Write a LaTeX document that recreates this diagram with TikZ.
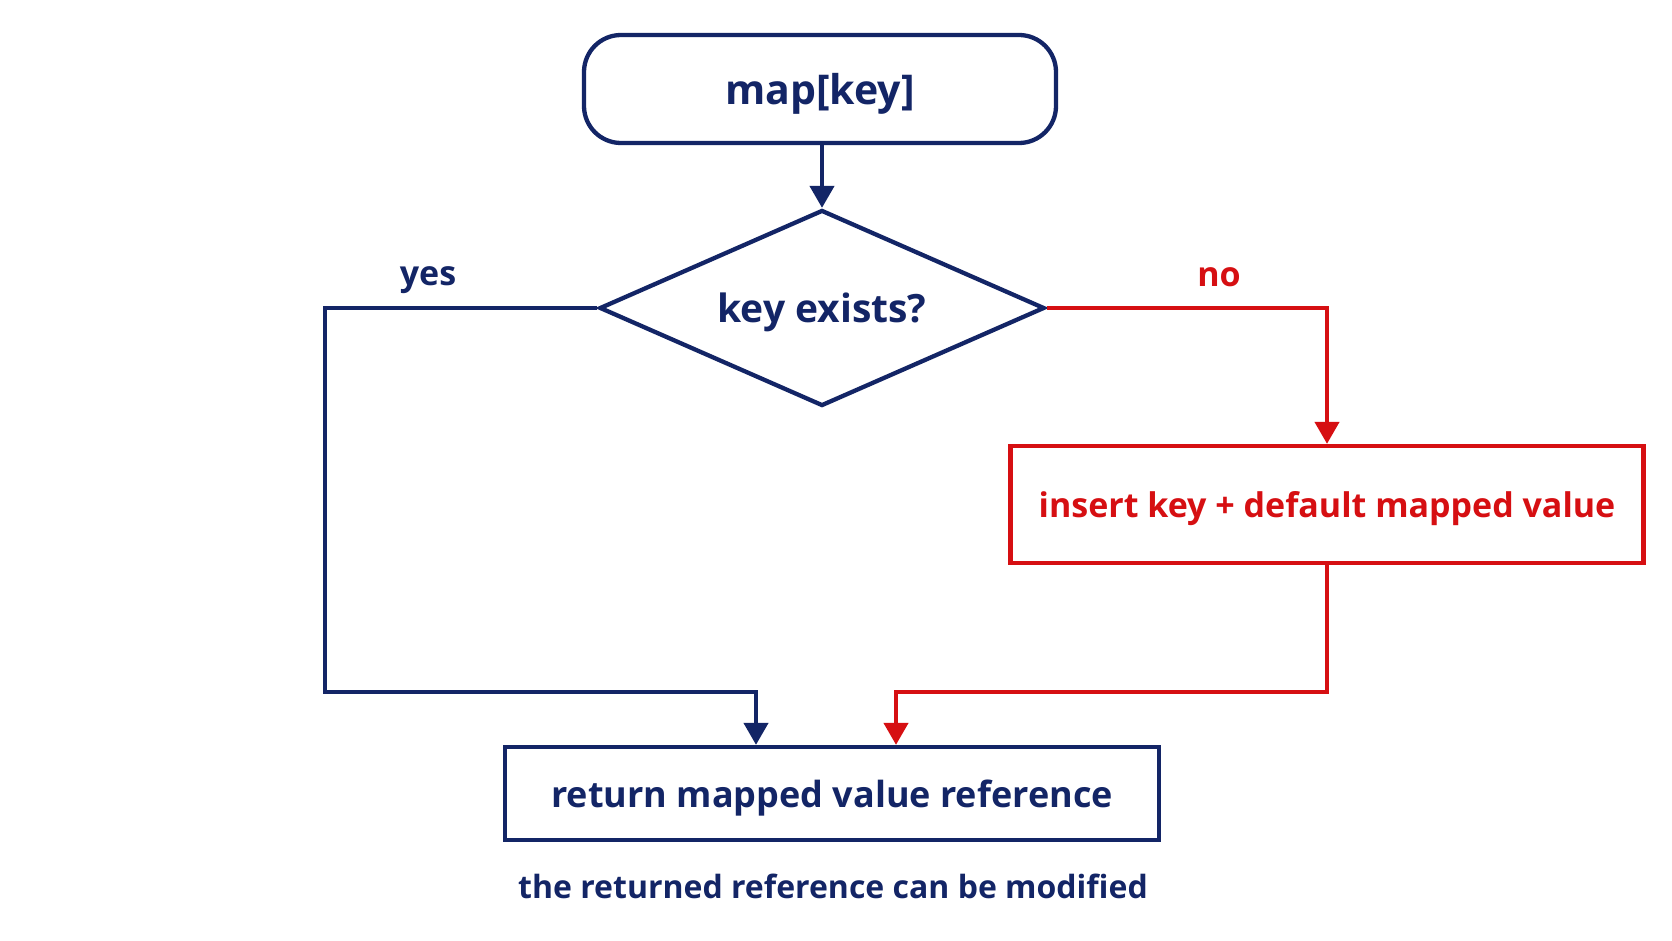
\documentclass[tikz,border=0pt]{standalone}
\usepackage{fontspec}
\setmainfont{Open Sans}
\usetikzlibrary{arrows.meta,shapes.geometric}
\definecolor{navy}{HTML}{132566}
\definecolor{redc}{HTML}{D60F12}
\newcommand{\fsz}[1]{\fontsize{#1}{#1}\selectfont\bfseries}
\begin{document}
\begin{tikzpicture}[x=1pt,y=-1pt,
  navybox/.style={draw=navy,line width=4.3pt,text=navy,inner sep=0pt,text depth=0pt},
  redbox/.style={draw=redc,line width=4.3pt,text=redc,inner sep=0pt,text depth=0pt},
  bl/.style={draw=navy,line width=4.3pt,-{Triangle[width=24pt,length=22pt]}},
  rl/.style={draw=redc,line width=4.3pt,-{Triangle[width=24pt,length=22pt]}}]
\fill[white] (0,0) rectangle (1672,941);
\useasboundingbox (0,0) rectangle (1672,941);
\node[navybox,font=\fsz{41},rounded corners=37pt,minimum width=472pt,minimum height=108pt] (start) at (820,89) {map[key]};
\node[navybox,font=\fsz{39},shape=diamond,aspect=2.27,minimum width=445pt,minimum height=196pt] (dia) at (822,308) {key exists?};
\node[redbox,font=\fsz{34},minimum width=633pt,minimum height=117pt] (ins) at (1327,504.5) {insert key + default mapped value};
\node[navybox,font=\fsz{36},minimum width=654pt,minimum height=93pt] (ret) at (832,793.5) {return mapped value reference};
\node[text=navy,font=\fsz{32}] (cap) at (833,886) {the returned reference can be modified};
\node[text=navy,font=\fsz{34}] (yes) at (428,280) {yes};
\node[text=redc,font=\fsz{34}] (no) at (1219,277) {no};
\coordinate (ya) at (325,692);
\coordinate (yb) at (756,692);
\coordinate (rb) at (896,692);
\draw[bl] (start.south -| dia.north) -- (dia.north);
\draw[bl] (dia.west) -| (ya) -- (yb) -- (yb |- ret.north);
\draw[rl] (dia.east) -| (ins.north);
\draw[rl] (ins.south) |- (rb) -- (rb |- ret.north);
\end{tikzpicture}
\end{document}
